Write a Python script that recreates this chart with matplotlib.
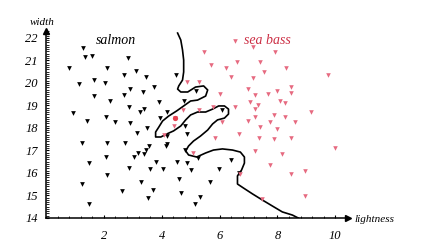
import matplotlib
matplotlib.use("Agg")
import matplotlib.pyplot as plt
import numpy as np
from matplotlib.ticker import MultipleLocator

# salmon (black) samples: lightness, width
salmon_x = [1.28, 1.34, 1.59, 2.83, 0.79, 2.10, 3.10, 2.69, 3.45, 1.14, 1.66, 2.03,
            2.90, 3.34, 3.72, 4.48, 1.66, 2.21, 2.69, 3.90, 2.86, 3.38, 3.24, 4.17,
            3.93, 4.76, 5.17, 0.93, 1.41, 2.07, 2.38, 2.90, 3.48, 3.14, 4.17, 4.86,
            4.79, 4.14, 4.17, 4.79, 5.24, 1.24, 2.10, 2.72, 3.55, 3.45, 3.38, 3.17,
            3.03, 2.07, 1.48, 2.86, 3.59, 3.79, 4.03, 4.52, 4.86, 5.00, 5.97, 6.41,
            6.69, 2.10, 4.59, 5.66, 1.24, 3.28, 2.62, 3.69, 4.66, 3.52, 5.31, 5.14,
            1.48, 6.07]
salmon_y = [21.56, 21.16, 21.20, 21.11, 20.67, 20.67, 20.53, 20.36, 20.27, 19.96, 20.13, 20.00,
            19.73, 19.60, 19.82, 20.36, 19.42, 19.20, 19.47, 19.16, 18.93, 18.84, 18.71, 18.71,
            18.44, 19.20, 19.64, 18.67, 18.31, 18.49, 18.27, 18.22, 18.00, 17.78, 17.64, 17.73,
            18.09, 17.20, 17.29, 17.02, 16.67, 17.33, 17.33, 17.33, 17.20, 17.02, 16.84, 16.89,
            16.71, 16.71, 16.44, 16.22, 16.18, 16.49, 16.18, 16.49, 16.44, 16.13, 16.18, 16.58,
            16.00, 15.91, 15.73, 15.60, 15.51, 15.60, 15.20, 15.24, 15.11, 14.89, 14.93, 14.62,
            14.62, 18.80]

# sea bass (red) samples
bass_x = [6.52, 7.14, 7.93, 5.48, 5.69, 6.59, 7.41, 6.21, 8.31, 7.52, 6.38, 7.14,
          9.76, 8.48, 6.97, 8.00, 7.69, 7.21, 6.03, 8.48, 8.10, 8.28, 7.07, 7.34,
          6.55, 7.21, 5.76, 9.17, 7.21, 7.90, 8.28, 6.97, 7.76, 8.62, 6.10, 4.86,
          5.28, 4.72, 5.28, 4.45, 4.41, 4.07, 5.07, 5.83, 6.69, 7.41, 7.97, 7.38,
          7.90, 8.48, 10.00, 7.21, 8.17, 7.76, 8.48, 8.97, 6.72, 7.48, 8.97]
bass_y = [21.87, 21.60, 21.38, 21.38, 20.80, 20.93, 20.93, 20.67, 20.67, 20.49, 20.27, 20.22,
          20.36, 19.82, 19.73, 19.64, 19.51, 19.47, 19.51, 19.56, 19.20, 19.11, 19.16, 19.02,
          18.93, 18.84, 18.93, 18.71, 18.49, 18.58, 18.49, 18.31, 18.27, 18.27, 18.27, 20.04,
          20.04, 18.80, 18.80, 18.44, 18.09, 17.69, 16.89, 17.56, 17.73, 18.04, 17.96, 17.56,
          17.51, 17.56, 17.11, 16.98, 16.84, 16.36, 15.96, 16.09, 15.96, 14.84, 14.98]

# decision boundary
bound_x = [4.55, 4.66, 4.72, 4.76, 4.76, 4.72, 4.59, 4.55, 4.66, 4.90, 5.17, 5.45,
           5.59, 5.52, 5.24, 5.00, 4.76, 4.52, 4.24, 4.03, 3.90, 3.79, 3.79, 3.97,
           4.17, 4.41, 4.66, 4.83, 5.00, 5.24, 5.52, 5.76, 5.97, 6.17, 6.31, 6.31,
           6.17, 5.93, 5.76, 5.59, 5.34, 5.10, 4.93, 4.83, 4.93, 5.21, 5.52, 5.79,
           6.10, 6.45, 6.72, 6.86, 6.86, 6.76, 6.62, 6.62, 6.83, 7.14, 7.48, 7.83,
           8.17, 8.52, 8.72]
bound_y = [22.22, 21.91, 21.47, 21.02, 20.49, 20.13, 19.87, 19.73, 19.60, 19.60, 19.82, 19.87,
           19.69, 19.42, 19.24, 19.20, 18.98, 18.76, 18.53, 18.31, 18.04, 17.82, 17.60, 17.60,
           17.73, 17.87, 18.09, 18.36, 18.58, 18.71, 18.71, 18.84, 18.98, 18.98, 18.84, 18.62,
           18.44, 18.36, 18.18, 17.91, 17.64, 17.42, 17.20, 16.98, 16.80, 16.71, 16.89, 17.02,
           17.07, 17.02, 16.93, 16.71, 16.44, 16.13, 15.87, 15.51, 15.33, 15.07, 14.80, 14.53,
           14.27, 14.13, 14.00]

serif = {'family': 'Liberation Serif', 'style': 'italic'}
red_pts = '#e66a80'
red_txt = '#cc2f45'

fig = plt.figure(figsize=(4.4, 2.48), dpi=100)
ax = fig.add_axes([0.1045, 0.121, 0.687, 0.753])

ax.plot(bound_x, bound_y, color='black', lw=1.2)
ax.plot(salmon_x, salmon_y, 'v', color='black', ms=3.4, mew=0)
ax.plot(bass_x, bass_y, 'v', color=red_pts, ms=3.3, mew=0)
ax.plot([4.45], [18.44], 'o', color='#e8404f', ms=3.8, mew=0)

ax.set_xlim(0, 10.45)
ax.set_ylim(14, 22.3)
for s in ['top', 'right']:
    ax.spines[s].set_visible(False)
for s in ['left', 'bottom']:
    ax.spines[s].set_linewidth(1.1)

ax.set_xticks([2, 4, 6, 8, 10])
ax.set_yticks(np.arange(14, 23, 1))
ax.xaxis.set_minor_locator(MultipleLocator(0.4))
ax.yaxis.set_minor_locator(MultipleLocator(0.1))
ax.tick_params(which='major', direction='in', length=2, width=0.8, pad=6)
ax.tick_params(which='minor', direction='in', length=1.8, width=0.6)
ax.tick_params(axis='x', pad=9)
for lab in ax.get_xticklabels() + ax.get_yticklabels():
    lab.set_fontfamily('Liberation Serif')
    lab.set_fontstyle('italic')
    lab.set_fontsize(9)

# axis arrows
ax.plot(1, 0, '>', color='black', ms=5, transform=ax.transAxes, clip_on=False)
ax.plot(0, 1, '^', color='black', ms=5, transform=ax.transAxes, clip_on=False)

ax.text(2.41, 21.9, 'salmon', fontdict=serif, fontsize=10, ha='center', va='center')
ax.text(7.66, 21.9, 'sea bass', fontdict=serif, fontsize=10, color=red_txt,
        ha='center', va='center')
ax.text(-0.14, 22.71, 'width', fontdict=serif, fontsize=8, ha='center', va='center',
        clip_on=False)
ax.text(11.34, 13.95, 'lightness', fontdict=serif, fontsize=8, ha='center', va='center',
        clip_on=False)

fig.savefig('out.png', dpi=100)
